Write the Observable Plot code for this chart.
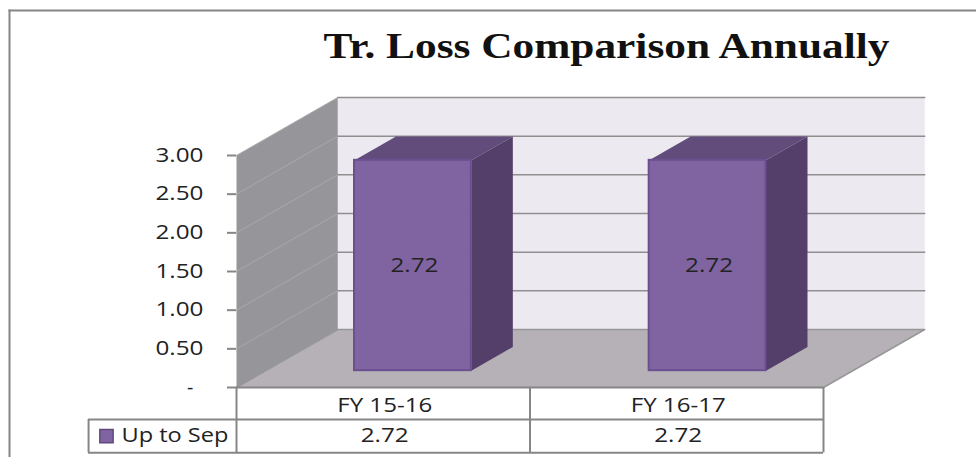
<!DOCTYPE html>
<html><head><meta charset="utf-8">
<script src="https://cdn.jsdelivr.net/npm/d3@7"></script>
<script src="https://cdn.jsdelivr.net/npm/@observablehq/plot@0.6"></script>
<style>html,body{margin:0;background:#fff;overflow:hidden}svg{display:block}</style>
</head><body><div id="chart"></div>
<script>
const title = "Tr. Loss Comparison Annually";
const categories = ["FY 15-16", "FY 16-17"];
const seriesName = "Up to Sep";
const values = [2.72, 2.72];
const yTicks = [0, 0.5, 1, 1.5, 2, 2.5, 3];

// oblique projection of the chart's 3-D box into data units
const depthX = 0.345, depthY = 0.75;
const P = (x, y, z) => [x + z * depthX, y + z * depthY];
const barFront = 0.29, barBack = 0.70, barStart = [0.302, 1.306], barWidth = 0.398;
const rows = {top: 0, mid: -0.414, bot: -0.845, legendLeft: -0.504};
const rowCenter = {cat: -0.24, val: -0.63};

const GRID = "#868686";
const xy = {x: d => d[0], y: d => d[1]};
const face = (pts, fill) => Plot.line(pts, {...xy, fill, stroke: "none", curve: "linear-closed"});

const bars = categories.map((c, i) => ({c, i, v: values[i]}));
const fontBody = {fontFamily: "Open Sans", fontSize: 19.5, fill: "#222"};

const marks = [
  Plot.frame({anchor: "left", stroke: GRID, strokeWidth: 2}),
  Plot.frame({anchor: "top", stroke: GRID, strokeWidth: 2}),
  // walls and floor
  face([P(0, 3, 1), P(2, 3, 1), P(2, 0, 1), P(0, 0, 1)], "#ece9f1"),
  face([P(0, 0, 0), P(0, 3, 0), P(0, 3, 1), P(0, 0, 1)], "#969599"),
  face([P(0, 0, 0), P(2, 0, 0), P(2, 0, 1), P(0, 0, 1)], "#b5b1b6"),
  // gridlines on both walls
  ...yTicks.filter(t => t > 0).flatMap(t => [
    Plot.line([P(0, t, 0), P(0, t, 1)], {...xy, stroke: "#a9a8ab", strokeWidth: 1}),
    Plot.line([P(0, t, 1), P(2, t, 1)], {...xy, stroke: "#8f8f8f", strokeWidth: 1.5})
  ]),
  Plot.line([P(0, 0, 0), P(0, 0, 1), P(2, 0, 1), P(2, 0, 0)], {...xy, stroke: "#979797", strokeWidth: 1.5}),
  // bars: top and side faces, then the front
  ...bars.flatMap(b => {
    const l = barStart[b.i], r = l + barWidth;
    return [
      face([P(l, b.v, barFront), P(r, b.v, barFront), P(r, b.v, barBack), P(l, b.v, barBack)], "#624c7c"),
      face([P(r, 0, barFront), P(r, b.v, barFront), P(r, b.v, barBack), P(r, 0, barBack)], "#533f69")
    ];
  }),
  Plot.rect(bars, {
    x1: d => P(barStart[d.i], 0, barFront)[0],
    x2: d => P(barStart[d.i] + barWidth, 0, barFront)[0],
    y1: d => P(0, 0, barFront)[1],
    y2: d => P(0, d.v, barFront)[1],
    fill: "#8064a2", stroke: "#6b4f91", strokeWidth: 2
  }),
  Plot.text(bars, {
    x: d => P(barStart[d.i] + barWidth / 2, 0, barFront)[0],
    y: d => P(0, d.v / 2, barFront)[1],
    dx: 1.5,
    text: d => d.v.toFixed(2), ...fontBody
  }),
  // axis
  Plot.axisY(yTicks, {
    anchor: "left", dx: 227, tickSize: 9, tickPadding: 24, stroke: GRID, strokeWidth: 2,
    tickFormat: d => d === 0 ? "-\u00a0\u00a0" : d.toFixed(2),
    label: null, ...fontBody
  }),
  // data table
  Plot.ruleY([rows.top], {x1: 0, x2: 2, stroke: GRID, strokeWidth: 2}),
  Plot.ruleY([rows.mid, rows.bot], {x1: rows.legendLeft, x2: 2, stroke: GRID, strokeWidth: 2}),
  Plot.ruleX([0, 1, 2], {y1: rows.top, y2: rows.bot, stroke: GRID, strokeWidth: 2}),
  Plot.ruleX([rows.legendLeft], {y1: rows.mid, y2: rows.bot, stroke: GRID, strokeWidth: 2}),
  Plot.text(bars, {x: d => d.i + 0.505, y: rowCenter.cat, text: "c", ...fontBody}),
  Plot.text(bars, {x: d => d.i + 0.505, y: rowCenter.val, text: d => d.v.toFixed(2), ...fontBody}),
  Plot.dot([seriesName], {x: -0.443, y: rowCenter.val, symbol: "square", r: 7.5, fill: "#8064a2", stroke: "#5f4a7e", strokeWidth: 1.5}),
  Plot.text([seriesName], {x: -0.392, y: rowCenter.val, text: d => d, textAnchor: "start", ...fontBody}),
  // title
  Plot.text([title], {
    frameAnchor: "top-left", dx: 314, dy: 23, text: d => d, textAnchor: "start",
    fontFamily: "Liberation Serif", fontWeight: "bold", fontSize: 35, fill: "#111"
  })
];

const plot = Plot.plot({
  width: 976, height: 457,
  marginLeft: 9, marginTop: 10, marginRight: 0, marginBottom: 0,
  style: {background: "#fff", overflow: "hidden"},
  x: {type: "linear", domain: [0, 2], range: [236, 823], axis: null},
  y: {type: "linear", domain: [0, 3], range: [387, 155], axis: null},
  marks
});
// the reference's lettering is stretched wide: fit each label to its measured width
const fit = s => s === title ? 566 : s === seriesName ? 107 : categories.includes(s) ? 95 : /^\d\.\d\d$/.test(s) ? 48 : null;
plot.querySelectorAll("text").forEach(t => {
  const w = fit(t.textContent);
  if (w) { t.setAttribute("textLength", w); t.setAttribute("lengthAdjust", "spacingAndGlyphs"); }
});
document.getElementById("chart").append(plot);
</script></body></html>
